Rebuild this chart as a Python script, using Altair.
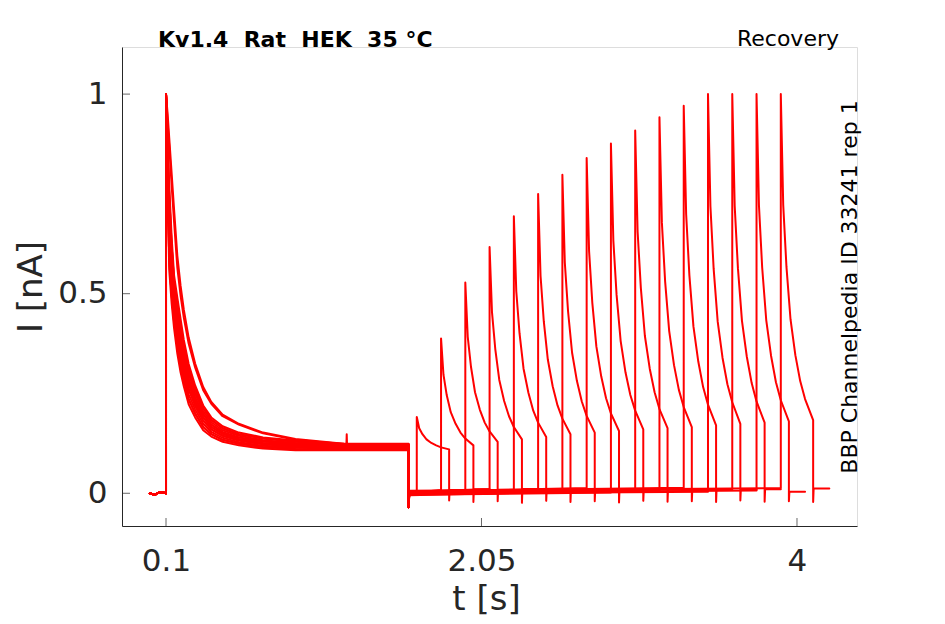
import altair as alt
import pandas as pd

RED = "#ff0000"
INK = "#262626"
FONT = "DejaVu Sans"

# ---------------- data ----------------
# holding level before the first pulse
PRE_T = [0.0, 0.03, 0.06, 0.095, 0.1]
PRE_I = [0.0, -0.004, 0.003, 0.001, 0.0]

# first (conditioning) pulse: time grid [s] and the current traces [nA]
T1 = [0.1, 0.11, 0.12, 0.135, 0.15, 0.17, 0.19, 0.21, 0.24, 0.28, 0.33, 0.38, 0.45, 0.55, 0.7, 0.9, 1.2, 1.6]
P1_TRACES = [
    # dense band, fastest to slowest
    [1.0, 0.760, 0.559, 0.475, 0.413, 0.350, 0.303, 0.268, 0.223, 0.190, 0.158, 0.142, 0.129, 0.120, 0.112, 0.108, 0.108, 0.108],
    [1.0, 0.775, 0.585, 0.496, 0.430, 0.368, 0.320, 0.283, 0.236, 0.200, 0.166, 0.148, 0.134, 0.124, 0.116, 0.111, 0.110, 0.110],
    [1.0, 0.790, 0.612, 0.516, 0.446, 0.385, 0.337, 0.297, 0.248, 0.210, 0.174, 0.154, 0.139, 0.128, 0.119, 0.114, 0.112, 0.112],
    [1.0, 0.805, 0.638, 0.537, 0.463, 0.403, 0.353, 0.312, 0.261, 0.220, 0.182, 0.160, 0.144, 0.132, 0.123, 0.117, 0.114, 0.114],
    [1.0, 0.820, 0.665, 0.558, 0.479, 0.420, 0.370, 0.326, 0.274, 0.230, 0.190, 0.166, 0.149, 0.136, 0.126, 0.120, 0.116, 0.116],
    [1.0, 0.835, 0.691, 0.578, 0.496, 0.438, 0.387, 0.341, 0.286, 0.240, 0.198, 0.172, 0.153, 0.140, 0.130, 0.123, 0.118, 0.118],
    [1.0, 0.850, 0.717, 0.599, 0.512, 0.455, 0.404, 0.355, 0.299, 0.250, 0.205, 0.178, 0.158, 0.144, 0.133, 0.126, 0.120, 0.120],
    [1.0, 0.865, 0.744, 0.619, 0.529, 0.473, 0.420, 0.370, 0.311, 0.260, 0.213, 0.184, 0.163, 0.148, 0.137, 0.129, 0.122, 0.122],
    [1.0, 0.880, 0.770, 0.640, 0.545, 0.490, 0.437, 0.384, 0.324, 0.270, 0.220, 0.190, 0.168, 0.152, 0.140, 0.132, 0.124, 0.124],
    # two slower traces above the band
    [1.0, 0.930, 0.870, 0.770, 0.680, 0.565, 0.495, 0.440, 0.375, 0.315, 0.258, 0.224, 0.193, 0.172, 0.150, 0.134, 0.123, 0.120],
    [1.0, 0.950, 0.890, 0.800, 0.710, 0.595, 0.520, 0.460, 0.390, 0.325, 0.266, 0.229, 0.197, 0.174, 0.152, 0.136, 0.124, 0.121],
]
P1_OF_SWEEP = [9, 10, 0, 1, 2, 3, 4, 5, 6, 7, 8, 1, 3, 5, 7, 4]
P1_END_T = 1.6
P1_END_DIP = -0.035
SPIKE_SWEEP = 9
SPIKE_T = 1.217
SPIKE_I = 0.148

# baseline between the pulses
BASE_AFTER = [-0.006, 0.0, -0.003, 0.003, -0.005, 0.001, -0.002, 0.004,
              -0.004, 0.002, 0.0, 0.005, -0.001, 0.003, 0.001, 0.006]
BASE_BEFORE = [0.0, 0.008, 0.003, 0.011, 0.001, 0.009, 0.005, 0.013,
               0.002, 0.010, 0.006, 0.014, 0.004, 0.011, 0.007, 0.013]

# second (test) pulse: start time per sweep, sample offsets and traces
T2_START = [1.65, 1.80, 1.95, 2.10, 2.25, 2.40, 2.55, 2.70,
            2.85, 3.00, 3.15, 3.30, 3.45, 3.60, 3.75, 3.90]
DT2 = [0.0, 0.015, 0.035, 0.06, 0.09, 0.12, 0.15, 0.2]
P2_TRACES = [
    [0.191, 0.163, 0.148, 0.135, 0.126, 0.120, 0.115, 0.110],
    [0.388, 0.297, 0.246, 0.203, 0.174, 0.152, 0.137, 0.120],
    [0.528, 0.392, 0.317, 0.253, 0.209, 0.177, 0.155, 0.129],
    [0.617, 0.453, 0.362, 0.284, 0.231, 0.193, 0.166, 0.135],
    [0.694, 0.506, 0.401, 0.312, 0.252, 0.207, 0.177, 0.141],
    [0.750, 0.545, 0.431, 0.335, 0.268, 0.220, 0.187, 0.148],
    [0.798, 0.578, 0.456, 0.352, 0.281, 0.230, 0.194, 0.152],
    [0.840, 0.607, 0.477, 0.368, 0.293, 0.238, 0.200, 0.156],
    [0.876, 0.633, 0.497, 0.382, 0.303, 0.246, 0.207, 0.160],
    [0.909, 0.655, 0.514, 0.394, 0.312, 0.253, 0.211, 0.163],
    [0.942, 0.678, 0.531, 0.407, 0.321, 0.259, 0.216, 0.166],
    [0.971, 0.699, 0.546, 0.418, 0.330, 0.266, 0.222, 0.170],
    [1.000, 0.719, 0.562, 0.430, 0.339, 0.273, 0.228, 0.174],
    [1.000, 0.720, 0.564, 0.432, 0.342, 0.276, 0.230, 0.177],
    [1.000, 0.721, 0.565, 0.434, 0.344, 0.278, 0.233, 0.180],
    [1.000, 0.722, 0.567, 0.436, 0.346, 0.281, 0.236, 0.183],
]
P2_END_DIP = [-0.018, -0.022, -0.02, -0.024, -0.019, -0.022, -0.02, -0.023,
              -0.019, -0.021, -0.02, -0.022, -0.018, -0.021, -0.02, -0.022]
TAIL_I = [0.008, 0.010, 0.009, 0.011, 0.008, 0.010, 0.009, 0.011,
          0.008, 0.010, 0.009, 0.011, 0.009, 0.010, 0.004, 0.012]
TAIL_LEN = 0.1

X_TICKS = [0.1, 2.05, 4.0]
Y_TICKS = [0.0, 0.5, 1.0]
X_DOMAIN = [-0.172, 4.371]
Y_DOMAIN = [-0.082, 1.118]

TITLE_TXT = "Kv1.4\u00a0\u00a0Rat\u00a0\u00a0HEK\u00a0\u00a035\u00a0°C"
PROTO_TXT = "Recovery"
ID_TXT = "BBP Channelpedia ID 33241 rep 1"

# ---------------- build the table ----------------
rows = []
for s in range(len(T2_START)):
    pts = list(zip(PRE_T, PRE_I))
    tr = P1_TRACES[P1_OF_SWEEP[s]]
    for t, v in zip(T1, tr):
        if s == SPIKE_SWEEP and t == T1[-1]:
            pts += [(SPIKE_T - 0.002, tr[-1]), (SPIKE_T, SPIKE_I), (SPIKE_T + 0.002, tr[-1])]
        pts.append((t, v))
    pts.append((P1_END_T, P1_END_DIP))
    pts.append((P1_END_T + 0.003, BASE_AFTER[s]))
    ts = T2_START[s]
    pts.append((ts, BASE_BEFORE[s]))
    for dt, v in zip(DT2, P2_TRACES[s]):
        pts.append((ts + dt, v))
    te = ts + DT2[-1]
    pts.append((te, P2_END_DIP[s]))
    pts.append((te + 0.003, TAIL_I[s]))
    pts.append((te + TAIL_LEN, TAIL_I[s]))
    for k, (t, v) in enumerate(pts):
        rows.append({"sweep": s, "idx": k, "t": t, "I": v})

df = pd.DataFrame(rows)

W, H = 735, 479
xscale = alt.Scale(domain=X_DOMAIN, nice=False, zero=False)
yscale = alt.Scale(domain=Y_DOMAIN, nice=False, zero=False)

lines = alt.Chart(df).mark_line(
    color=RED, strokeWidth=2.0, strokeJoin="round", strokeCap="round"
).encode(
    x=alt.X("t:Q", scale=xscale, axis=alt.Axis(
        values=X_TICKS, labelExpr="format(datum.value, '~g')", ticks=False, tickSize=0,
        grid=False, domainColor=INK, domainWidth=1, labelFont=FONT, labelFontSize=31,
        labelColor=INK, labelPadding=20, labelFlush=False, labelOverlap=False,
        title="t [s]", titleFont=FONT, titleFontSize=34, titleFontWeight="normal",
        titleColor=INK, titleX=364, titleY=73, titleBaseline="middle")),
    y=alt.Y("I:Q", scale=yscale, axis=alt.Axis(
        values=Y_TICKS, labelExpr="format(datum.value, '~g')", ticks=False, tickSize=0,
        grid=False, domainColor=INK, domainWidth=1, labelFont=FONT, labelFontSize=31,
        labelColor=INK, labelPadding=15, labelFlush=False, labelOverlap=False,
        title="I [nA]", titleFont=FONT, titleFontSize=34, titleFontWeight="normal",
        titleColor=INK, titleX=-91, titleBaseline="middle")),
    detail="sweep:N",
    order="idx:Q",
)

xt = alt.Chart(pd.DataFrame({"v": X_TICKS})).mark_tick(
    orient="vertical", size=8, thickness=1, color=INK
).encode(x=alt.X("v:Q", scale=xscale), y=alt.value(H - 4))

yt = alt.Chart(pd.DataFrame({"v": Y_TICKS})).mark_tick(
    orient="horizontal", size=8, thickness=1, color=INK
).encode(y=alt.Y("v:Q", scale=yscale), x=alt.value(4))

title = alt.Chart(pd.DataFrame({"txt": [TITLE_TXT]})).mark_text(
    font=FONT, fontSize=22, fontWeight="bold", color="#000000", align="left", baseline="alphabetic"
).encode(x=alt.value(36), y=alt.value(0), text="txt:N")

proto = alt.Chart(pd.DataFrame({"txt": [PROTO_TXT]})).mark_text(
    font=FONT, fontSize=22, color="#000000", align="right", baseline="alphabetic"
).encode(x=alt.value(717), y=alt.value(-1), text="txt:N")

ident = alt.Chart(pd.DataFrame({"txt": [ID_TXT]})).mark_text(
    font=FONT, fontSize=22, color="#000000", align="center", baseline="alphabetic", angle=270
).encode(x=alt.value(735), y=alt.value(240), text="txt:N")

chart = alt.layer(lines, xt, yt, title, proto, ident).properties(
    width=W, height=H,
    autosize=alt.AutoSizeParams(type="none"),
    padding={"left": 114, "top": 39, "right": 80, "bottom": 90},
).configure_view(stroke=None).configure(background="white")

chart.save("out.html", embed_options={"renderer": "svg", "actions": False})
